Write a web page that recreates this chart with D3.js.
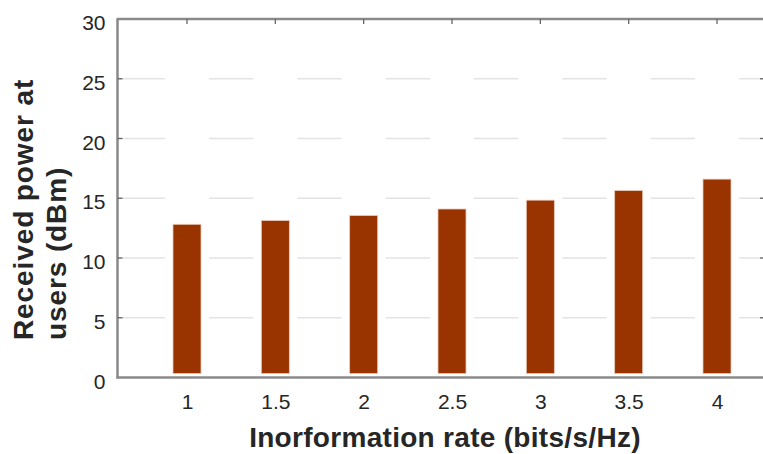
<!DOCTYPE html>
<html><head><meta charset="utf-8">
<script src="https://cdn.jsdelivr.net/npm/d3@7"></script>
<style>body{margin:0;background:#fff;} svg{display:block;}</style>
</head><body>
<svg id="c" width="763" height="454"></svg>
<script>
const rates = [1, 1.5, 2, 2.5, 3, 3.5, 4];
const power = [12.82, 13.13, 13.55, 14.1, 14.84, 15.64, 16.6];
const yTicks = [0, 5, 10, 15, 20, 25, 30];
const xTickLabels = ["1", "1.5", "2", "2.5", "3", "3.5", "4"];
const barBase = 0.33;

const svg = d3.select("#c");
const x = d3.scaleLinear().domain([1, 4]).range([187, 717]);
const y = d3.scaleLinear().domain([0, 30]).range([377.5, 19]);
const left = 117.5, right = 764;
const barW = 28, gap = 8;
const txt = "#262626", axisCol = "#8a8a8a", font = "Liberation Sans, Arial, sans-serif";

// gridlines broken around bars
const grid = svg.append("g");
yTicks.filter(t => t > 0 && t < 30).forEach(t => {
  let segs = [];
  let start = left;
  rates.forEach(r => {
    segs.push([start, x(r) - barW / 2 - gap]);
    start = x(r) + barW / 2 + gap;
  });
  segs.push([start, right]);
  grid.selectAll(null).data(segs).enter().append("line")
    .attr("x1", d => d[0]).attr("x2", d => d[1])
    .attr("y1", y(t)).attr("y2", y(t))
    .attr("stroke", "#e3e3e3").attr("stroke-width", 1.5);
});

// bars
svg.append("g").selectAll("rect").data(rates).enter().append("rect")
  .attr("x", d => x(d) - barW / 2)
  .attr("width", barW)
  .attr("y", (d, i) => y(power[i]))
  .attr("height", (d, i) => y(barBase) - y(power[i]))
  .attr("fill", "#993300")
  .attr("stroke", "#e8c9b8").attr("stroke-width", 0.8);

// y axis
const yAxis = d3.axisLeft(y).tickValues(yTicks).tickSize(0).tickPadding(12);
const gy = svg.append("g").attr("transform", `translate(${left},0)`).call(yAxis);
gy.select(".domain").remove();
gy.selectAll("text").attr("font-family", font).attr("font-size", 21).attr("fill", txt)
  .attr("dy", "0.5em");

// x axis labels
const xAxis = d3.axisBottom(x).tickValues(rates).tickFormat((d, i) => xTickLabels[i]).tickSize(0).tickPadding(17);
const gx = svg.append("g").attr("transform", `translate(0,${y(0)})`).call(xAxis);
gx.select(".domain").remove();
gx.selectAll("text").attr("font-family", font).attr("font-size", 21).attr("fill", txt);

// frame lines
svg.append("line").attr("x1", left).attr("x2", left).attr("y1", y(30)).attr("y2", y(0) + 1)
  .attr("stroke", axisCol).attr("stroke-width", 2.5);
svg.append("line").attr("x1", left - 1).attr("x2", right).attr("y1", y(0)).attr("y2", y(0))
  .attr("stroke", axisCol).attr("stroke-width", 2.5);
svg.append("line").attr("x1", left - 1).attr("x2", right).attr("y1", y(30)).attr("y2", y(30))
  .attr("stroke", axisCol).attr("stroke-width", 2.5);

// tick marks
const inner = yTicks.filter(t => t > 0 && t < 30);
svg.append("g").selectAll("line").data(inner).enter().append("line")
  .attr("x1", left).attr("x2", left + 5).attr("y1", d => y(d)).attr("y2", d => y(d))
  .attr("stroke", "#666").attr("stroke-width", 1.3);
svg.append("g").selectAll("line").data(inner).enter().append("line")
  .attr("x1", 760).attr("x2", 763).attr("y1", d => y(d)).attr("y2", d => y(d))
  .attr("stroke", "#666").attr("stroke-width", 1.3);
svg.append("g").selectAll("line").data(rates).enter().append("line")
  .attr("x1", d => x(d)).attr("x2", d => x(d)).attr("y1", y(30)).attr("y2", y(30) + 5)
  .attr("stroke", "#666").attr("stroke-width", 1.3);

// axis titles
svg.append("text").attr("x", 445).attr("y", 447).attr("text-anchor", "middle")
  .attr("font-family", font).attr("font-size", 28).attr("font-weight", "bold").attr("fill", txt)
  .attr("letter-spacing", 0.3)
  .text("Inorformation rate (bits/s/Hz)");
const yl = svg.append("text").attr("transform", "translate(0,340) rotate(-90)")
  .attr("text-anchor", "start").attr("font-family", font).attr("font-size", 28)
  .attr("font-weight", "bold").attr("fill", txt).attr("letter-spacing", 0.9);
yl.append("tspan").attr("x", 0).attr("y", 33).text("Received power at");
yl.append("tspan").attr("x", 0).attr("y", 66).text("users (dBm)");
</script>
</body></html>
